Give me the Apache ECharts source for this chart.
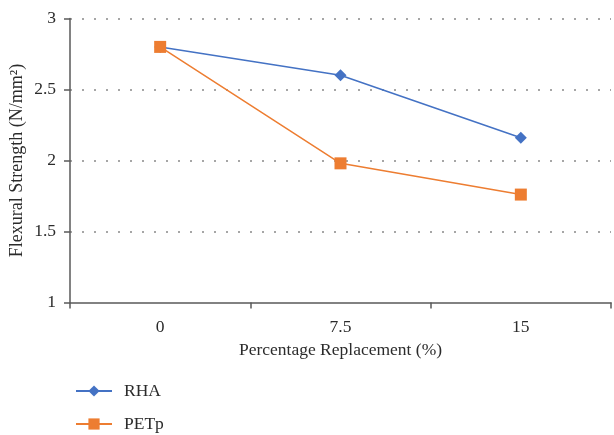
<!DOCTYPE html>
<html>
<head>
<meta charset="utf-8">
<script src="https://cdn.jsdelivr.net/npm/echarts@6/dist/echarts.min.js"></script>
<style>
  html, body { margin: 0; padding: 0; background: #fff; }
  #chart { width: 614px; height: 435px; }
</style>
</head>
<body>
<div id="chart"></div>
<script>
// Flexural strength vs. percentage replacement
const categories = ['0', '7.5', '15'];
const rhaValues = [2.80, 2.60, 2.16];
const petpValues = [2.80, 1.98, 1.76];
const seriesNames = ['RHA', 'PETp'];

const FONT = '"Liberation Serif", "DejaVu Serif", serif';
const TEXT = '#2b2b2b';
const AXIS = '#595959';
const GRID = '#a6a6a6';
const FS = 17.5;

const chart = echarts.init(document.getElementById('chart'), null, { renderer: 'canvas' });

const legendBase = {
  orient: 'vertical',
  left: 70,
  itemWidth: 36,
  itemHeight: 14,
  textStyle: { fontFamily: FONT, fontSize: FS, color: TEXT, padding: [0, 0, 0, 7] }
};

chart.setOption({
  animation: false,
  backgroundColor: '#ffffff',
  textStyle: { fontFamily: FONT, color: TEXT },
  grid: {
    left: 70, right: 3, top: 18.5, bottom: 132.5,
    containLabel: false,
    outerBoundsMode: 'none'
  },
  legend: [
    Object.assign({}, legendBase, { top: 377, data: [seriesNames[0]] }),
    Object.assign({}, legendBase, { top: 410, data: [seriesNames[1]] })
  ],
  xAxis: {
    type: 'category',
    data: categories,
    boundaryGap: true,
    name: 'Percentage Replacement (%)',
    nameLocation: 'middle',
    nameGap: 39,
    nameMoveOverlap: false,
    nameTextStyle: { fontFamily: FONT, fontSize: FS, color: TEXT },
    axisLine: { lineStyle: { color: AXIS, width: 1.5 } },
    axisTick: { show: true, length: 6, alignWithLabel: false, lineStyle: { color: AXIS, width: 1.5 } },
    axisLabel: { fontFamily: FONT, fontSize: FS, color: TEXT, margin: 16 },
    splitLine: { show: false }
  },
  yAxis: {
    type: 'value',
    min: 1,
    max: 3,
    interval: 0.5,
    name: 'Flexural Strength (N/mm²)',
    nameLocation: 'middle',
    nameGap: 44,
    nameMoveOverlap: false,
    nameTextStyle: { fontFamily: FONT, fontSize: 18, color: TEXT },
    axisLine: { show: true, lineStyle: { color: AXIS, width: 1.5 } },
    axisTick: { show: true, length: 6, lineStyle: { color: AXIS, width: 1.5 } },
    axisLabel: { fontFamily: FONT, fontSize: FS, color: TEXT, margin: 14 },
    splitLine: {
      show: true,
      // the baseline at 1 is covered by the category axis, so no dotted line there
      lineStyle: { color: ['rgba(0,0,0,0)', GRID, GRID, GRID, GRID], width: 2, type: [2, 10] }
    }
  },
  series: [
    {
      name: seriesNames[0],
      type: 'line',
      data: rhaValues,
      symbol: 'diamond',
      symbolSize: 12,
      color: '#4472C4',
      lineStyle: { width: 1.5, color: '#4472C4' },
      itemStyle: { color: '#4472C4' },
      z: 3
    },
    {
      name: seriesNames[1],
      type: 'line',
      data: petpValues,
      symbol: 'rect',
      symbolSize: 12,
      color: '#ED7D31',
      lineStyle: { width: 1.5, color: '#ED7D31' },
      itemStyle: { color: '#ED7D31' },
      z: 4
    }
  ]
});
</script>
</body>
</html>
